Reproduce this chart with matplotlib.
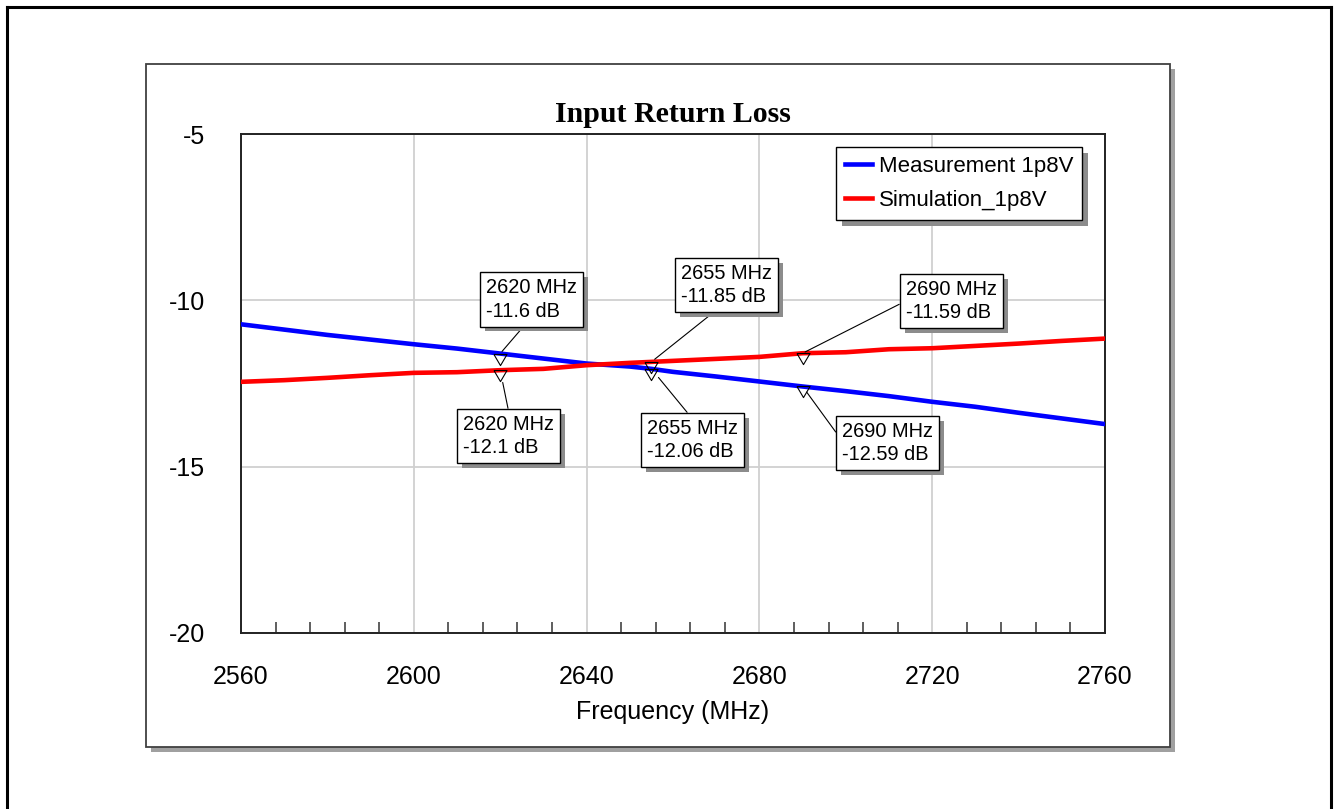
import numpy as np
import matplotlib
matplotlib.use('Agg')
import matplotlib.pyplot as plt
import matplotlib.patheffects as pe
from matplotlib.lines import Line2D
from matplotlib.patches import Rectangle
from matplotlib.ticker import MultipleLocator

plt.rcParams['font.family'] = ['Liberation Sans', 'DejaVu Sans']
plt.rcParams['axes.unicode_minus'] = False

# data
freq = [2560, 2570, 2580, 2590, 2600, 2610, 2620, 2630, 2640, 2650, 2655,
        2660, 2670, 2680, 2690, 2700, 2710, 2720, 2730, 2740, 2750, 2760]
meas_1p8v = [-10.72, -10.88, -11.04, -11.18, -11.32, -11.45, -11.60, -11.75, -11.90, -11.99, -12.06,
             -12.15, -12.29, -12.44, -12.59, -12.73, -12.88, -13.05, -13.20, -13.38, -13.55, -13.72]
sim_1p8v = [-12.45, -12.40, -12.33, -12.25, -12.18, -12.16, -12.10, -12.06, -11.95, -11.88, -11.85,
            -11.82, -11.76, -11.70, -11.59, -11.56, -11.47, -11.44, -11.37, -11.30, -11.22, -11.15]

marker_freq = [2620, 2655, 2690]
meas_marks = [-11.6, -12.06, -12.59]
sim_marks = [-12.1, -11.85, -11.59]

x_ticks = [2560, 2600, 2640, 2680, 2720, 2760]
y_ticks = [-20, -15, -10, -5]

W, H = 1334, 809
fig = plt.figure(figsize=(W / 100, H / 100), dpi=100)

def fx(px):
    return px / W

def fy(py):
    return 1 - py / H

# outer frame (bottom edge is off the picture)
for xs, ys in [([7, 7], [812, 7]), ([7, 1331], [7, 7]), ([1331, 1331], [7, 812])]:
    fig.add_artist(Line2D([fx(v) for v in xs], [fy(v) for v in ys], color='black', lw=2.2))

# panel with drop shadow
fig.add_artist(Rectangle((fx(151), fy(752)), fx(1024), 1 - fy(683), facecolor='#a0a0a0',
                         edgecolor='none', zorder=0))
fig.add_artist(Rectangle((fx(146), fy(747)), fx(1024), 1 - fy(683), facecolor='white',
                         edgecolor='#404040', lw=1.3, zorder=0.5))

ax = fig.add_axes([fx(241), fy(633), fx(1105 - 241), 1 - fy(633 - 134)])
ax.set_zorder(1)

ax.plot(freq, meas_1p8v, color='#0000ff', lw=3.3, label='Measurement 1p8V', zorder=3)
ax.plot(freq, sim_1p8v, color='#ff0000', lw=3.3, label='Simulation_1p8V', zorder=3)

# hanging triangle markers (top edge on the trace)
tri = [(-1, 0), (1, 0), (0, -1.7), (-1, 0)]
ax.plot(marker_freq, meas_marks, ls='none', marker=tri, ms=16, mfc='none', mec='black', mew=0.8, zorder=4)
ax.plot(marker_freq, sim_marks, ls='none', marker=tri, ms=16, mfc='none', mec='black', mew=0.8, zorder=4)

ax.set_xlim(2560, 2760)
ax.set_ylim(-20, -5)
ax.set_xticks(x_ticks)
ax.set_yticks(y_ticks)
ax.xaxis.set_minor_locator(MultipleLocator(8))
ax.tick_params(axis='x', which='major', length=0, pad=23, labelsize=18)
ax.tick_params(axis='x', which='minor', direction='in', length=8, width=1.1, color='#333333')
ax.tick_params(axis='y', which='major', length=0, pad=26, labelsize=18)
ax.grid(True, color='#d0d0d0', lw=1.3)
ax.set_axisbelow(True)
for s in ax.spines.values():
    s.set_color('#222222')
    s.set_linewidth(1.4)

ax.set_xlabel('Frequency (MHz)', fontsize=18, labelpad=8)
ax.set_title('Input Return Loss', family='Liberation Serif', fontweight='bold', fontsize=21.5, pad=9)

leg = ax.legend(loc='upper right', bbox_to_anchor=(fx(1082 - 241) / fx(864), 1 - 13 / 499),
                fontsize=16, fancybox=False, framealpha=1, edgecolor='black',
                handlelength=1.2, handletextpad=0.3, borderpad=0.4, labelspacing=0.6,
                borderaxespad=0)
leg.get_frame().set_linewidth(1.0)
leg.get_frame().set_path_effects([pe.withSimplePatchShadow(offset=(4, -4), shadow_rgbFace='#8c8c8c', alpha=1)])

# marker readouts: (text, point, box centre, relpos, shrinkB)
labels = [
    ('2620 MHz\n-11.6 dB', (2620, -11.6), (2627.2, -9.97), (0.47, 0.0), 2),
    ('2620 MHz\n-12.1 dB', (2620, -12.1), (2621.9, -14.08), (0.51, 1.0), 9),
    ('2655 MHz\n-11.85 dB', (2655, -11.85), (2672.4, -9.54), (0.44, 0.0), 3),
    ('2655 MHz\n-12.06 dB', (2655, -12.06), (2664.5, -14.20), (0.5, 1.0), 8),
    ('2690 MHz\n-11.59 dB', (2690, -11.59), (2724.4, -10.02), (0.0, 0.5), 2),
    ('2690 MHz\n-12.59 dB', (2690, -12.59), (2709.7, -14.29), (0.0, 0.55), 5),
]
for txt, pt, box, rel, shr in labels:
    a = ax.annotate(txt, xy=pt, xytext=box, ha='center', va='center', multialignment='left',
                    fontsize=14.4, linespacing=1.3, zorder=5,
                    bbox=dict(boxstyle='square,pad=0.3', fc='white', ec='black', lw=1.0),
                    arrowprops=dict(arrowstyle='-', color='black', lw=0.8, relpos=rel,
                                    shrinkA=0, shrinkB=shr))
    a.get_bbox_patch().set_path_effects([pe.withSimplePatchShadow(offset=(3.5, -3.5),
                                                                  shadow_rgbFace='#8c8c8c', alpha=1)])

fig.savefig('out.png', dpi=100)
